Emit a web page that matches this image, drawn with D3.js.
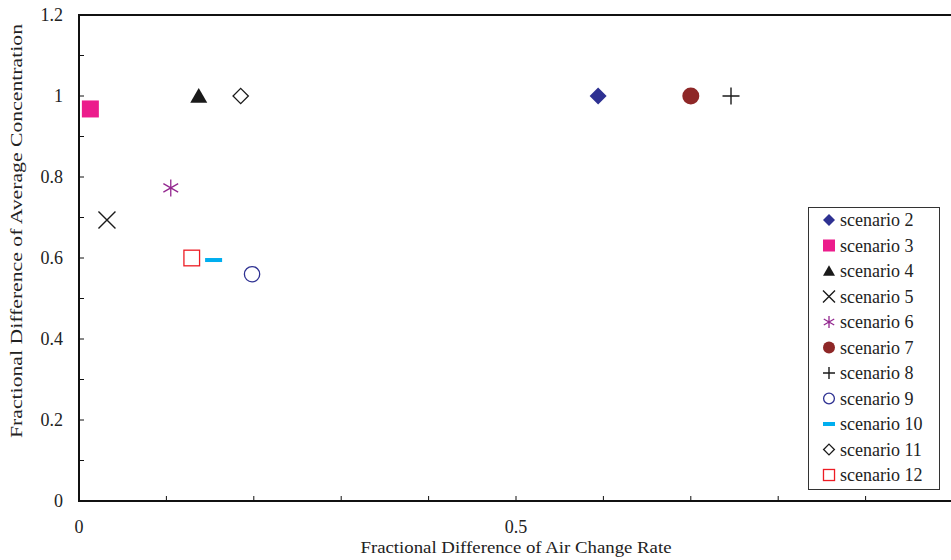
<!DOCTYPE html>
<html><head><meta charset="utf-8">
<script src="https://cdn.jsdelivr.net/npm/d3@7"></script>
<style>body{margin:0;background:#fff}svg{display:block}</style>
</head><body><svg id="c" width="951" height="560"></svg>
<script>
const scenarios = ["scenario 2","scenario 3","scenario 4","scenario 5","scenario 6","scenario 7","scenario 8","scenario 9","scenario 10","scenario 11","scenario 12"];
const xValues = [0.594, 0.013, 0.137, 0.032, 0.105, 0.700, 0.746, 0.198, 0.154, 0.185, 0.129];
const yValues = [1.0, 0.968, 1.0, 0.694, 0.773, 1.0, 1.0, 0.560, 0.595, 1.0, 0.600];
const markerTypes = ["diamondFill","squareFill","triangleFill","cross","asterisk","circleFill","plus","circleOpen","dash","diamondOpen","squareOpen"];
const colors = ["#2E3192","#EC1C8C","#1a1a1a","#1a1a1a","#93278F","#8E2727","#1a1a1a","#2E3192","#00AEEF","#1a1a1a","#ED1C24"];
const xMajorTicks = [0, 0.5];
const yMajorTicks = [0, 0.2, 0.4, 0.6, 0.8, 1.0, 1.2];
const yTickLabels = ["0","0.2","0.4","0.6","0.8","1","1.2"];
const xTickLabels = ["0","0.5"];

const FONT = "'Liberation Serif','Times New Roman','DejaVu Serif',serif";
const svg = d3.select("#c");
const m = {l:79, t:15, r:953, b:501};
const x = d3.scaleLinear().domain([0,1]).range([m.l, m.r]);
const y = d3.scaleLinear().domain([0,1.2]).range([m.b, m.t]);

// frame
svg.append("path").attr("d",`M${m.r},${m.t}H${m.l}V${m.b}H${m.r}`).attr("fill","none").attr("stroke","#111").attr("stroke-width",2);

// minor ticks
const xMinor = d3.range(1,10).map(i=>i/10);
svg.append("g").selectAll("line").data(xMinor).join("line")
  .attr("x1",d=>x(d)).attr("x2",d=>x(d)).attr("y1",m.b).attr("y2",m.b-5).attr("stroke","#111").attr("stroke-width",1);
const yMinor = d3.range(1,12).map(i=>i/10);
svg.append("g").selectAll("line").data(yMinor).join("line")
  .attr("x1",m.l).attr("x2",m.l+5).attr("y1",d=>y(d)).attr("y2",d=>y(d)).attr("stroke","#111").attr("stroke-width",1);

// tick labels
svg.append("g").selectAll("text").data(yMajorTicks).join("text")
  .attr("x",m.l-16).attr("y",d=>y(d)).attr("dy","0.35em").attr("text-anchor","end")
  .attr("font-family",FONT).attr("font-size",18).attr("fill","#222").text((d,i)=>yTickLabels[i]);
svg.append("g").selectAll("text").data(xMajorTicks).join("text")
  .attr("x",d=>x(d)).attr("y",533).attr("text-anchor","middle")
  .attr("font-family",FONT).attr("font-size",18).attr("fill","#222").text((d,i)=>xTickLabels[i]);

// axis titles
svg.append("text").attr("x",516).attr("y",553).attr("text-anchor","middle").attr("font-family",FONT).attr("font-size",16).attr("fill","#222")
  .attr("textLength",311).attr("lengthAdjust","spacingAndGlyphs")
  .text("Fractional Difference of Air Change Rate");
svg.append("text").attr("transform","translate(22,231) rotate(-90)").attr("text-anchor","middle").attr("font-family",FONT).attr("font-size",16).attr("fill","#222")
  .attr("textLength",414).attr("lengthAdjust","spacingAndGlyphs")
  .text("Fractional Difference of Average Concentration");

function marker(g, type, color, s){
  const h = s/2;
  switch(type){
    case "diamondFill": g.append("path").attr("d",`M0,${-h}L${h},0L0,${h}L${-h},0Z`).attr("fill",color); break;
    case "diamondOpen": g.append("path").attr("d",`M0,${-h*0.9}L${h*0.9},0L0,${h*0.9}L${-h*0.9},0Z`).attr("fill","#fff").attr("stroke",color).attr("stroke-width",1.3); break;
    case "squareFill": g.append("rect").attr("x",-h).attr("y",-h).attr("width",s).attr("height",s).attr("fill",color); break;
    case "squareOpen": g.append("rect").attr("x",-h*0.92).attr("y",-h*0.92).attr("width",s*0.92).attr("height",s*0.92).attr("fill","#fff").attr("stroke",color).attr("stroke-width",1.3); break;
    case "triangleFill": g.append("path").attr("d",`M0,${-h*0.95}L${h},${h*0.8}L${-h},${h*0.8}Z`).attr("fill",color); break;
    case "cross": g.append("path").attr("d",`M${-h},${-h}L${h},${h}M${h},${-h}L${-h},${h}`).attr("stroke",color).attr("stroke-width",1.4); break;
    case "plus": g.append("path").attr("d",`M${-h},0H${h}M0,${-h}V${h}`).attr("stroke",color).attr("stroke-width",1.4); break;
    case "asterisk": g.append("path").attr("d",`M0,${-h}V${h}M${-h*0.87},${-h*0.5}L${h*0.87},${h*0.5}M${h*0.87},${-h*0.5}L${-h*0.87},${h*0.5}`).attr("stroke",color).attr("stroke-width",1.3); break;
    case "circleFill": g.append("circle").attr("r",h).attr("fill",color); break;
    case "circleOpen": g.append("circle").attr("r",h*0.9).attr("fill","#fff").attr("stroke",color).attr("stroke-width",1.3); break;
    case "dash": g.append("rect").attr("x",-h).attr("y",-2).attr("width",s).attr("height",4).attr("fill",color); break;
  }
}

// points
scenarios.forEach((name,i)=>{
  const g = svg.append("g").attr("transform",`translate(${x(xValues[i])},${y(yValues[i])})`);
  marker(g, markerTypes[i], colors[i], 17);
});

// legend
const lg = svg.append("g");
lg.append("rect").attr("x",808.5).attr("y",207.5).attr("width",131).attr("height",282).attr("fill","#fff").attr("stroke","#333").attr("stroke-width",1);
scenarios.forEach((name,i)=>{
  const cy = 220 + i*25.5;
  const g = lg.append("g").attr("transform",`translate(829,${cy})`);
  marker(g, markerTypes[i], colors[i], 12);
  lg.append("text").attr("x",840).attr("y",cy).attr("dy","0.35em").attr("font-family",FONT).attr("font-size",18).attr("fill","#222").text(name);
});
</script></body></html>
